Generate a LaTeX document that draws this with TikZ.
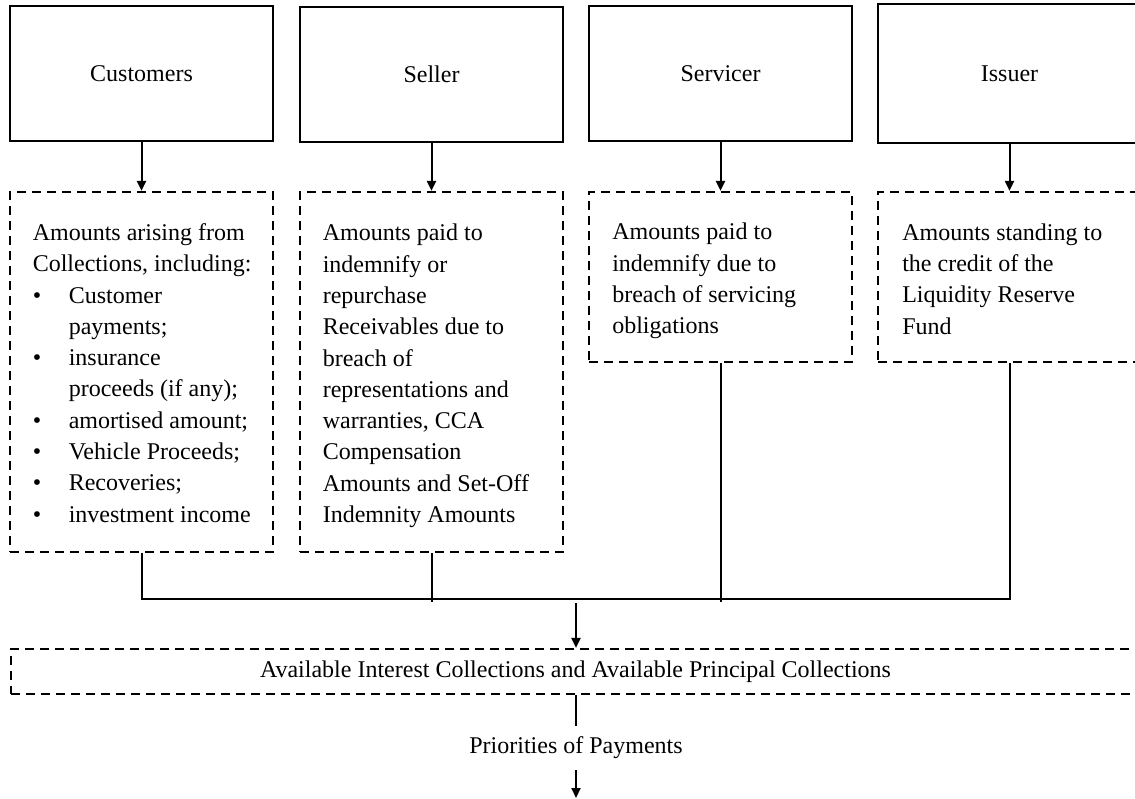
\documentclass[tikz,border=0pt]{standalone}
\usepackage{fontspec}
\setmainfont{Liberation Serif}
\usetikzlibrary{arrows.meta}
\begin{document}
\begin{tikzpicture}[x=0.5pt,y=-0.5pt,
  txt/.style={font=\fontsize{12pt}{15.65pt}\selectfont, inner sep=0pt},
  solidbox/.style={txt, draw, line width=1.2pt, minimum width=131.5pt},
  dashbox/.style={draw, line width=1.1pt, dash pattern=on 4.5pt off 3pt, minimum width=131.5pt, inner sep=0pt},
  boxtxt/.style={txt, align=left, anchor=west},
  conn/.style={line width=1pt},
  arr/.style={conn, -{Triangle[length=5pt,width=4.5pt]}}]
\useasboundingbox (0,0) rectangle (1135,798);

% top boxes
\node[solidbox, minimum height=67.5pt] (cust) at (141.5,73.5) {Customers};
\node[solidbox, minimum height=67.5pt] (seller) at (431.5,74.5) {Seller};
\node[solidbox, minimum height=67.5pt] (serv) at (720.5,73.5) {Servicer};
\node[solidbox, minimum height=69.5pt] (issuer) at (1009.5,73.5) {Issuer};

% dashed boxes
\node[dashbox, minimum height=180pt] (d1) at (141.5,372) {};
\node[dashbox, minimum height=180pt] (d2) at (431.5,372) {};
\node[dashbox, minimum height=85pt] (d3) at (720.5,277) {};
\node[dashbox, minimum height=85pt] (d4) at (1009.5,277) {};

\node[boxtxt] (t1) at ([xshift=11.75pt,yshift=-0.5pt]d1.west) {Amounts arising from\\
Collections, including:\\
\makebox[18pt][l]{\textbullet}Customer\\
\hspace*{18pt}payments;\\
\makebox[18pt][l]{\textbullet}insurance\\
\hspace*{18pt}proceeds (if any);\\
\makebox[18pt][l]{\textbullet}amortised amount;\\
\makebox[18pt][l]{\textbullet}Vehicle Proceeds;\\
\makebox[18pt][l]{\textbullet}Recoveries;\\
\makebox[18pt][l]{\textbullet}investment income};

\node[boxtxt] (t2) at ([xshift=11.75pt,yshift=-2pt]d2.west) {Amounts paid to\\
indemnify or\\
repurchase\\
Receivables due to\\
breach of\\
representations and\\
warranties, CCA\\
Compensation\\
Amounts and Set-Off\\
Indemnity Amounts};

\node[boxtxt] (t3) at ([xshift=12pt,yshift=-2pt]d3.west) {Amounts paid to\\
indemnify due to\\
breach of servicing\\
obligations};

\node[boxtxt] (t4) at ([xshift=12.5pt,yshift=-1pt]d4.west) {Amounts standing to\\
the credit of the\\
Liquidity Reserve\\
Fund};

% arrows top
\draw[arr] (cust.south) -- (d1.north);
\draw[arr] (seller.south) -- (d2.north);
\draw[arr] (serv.south) -- (d3.north);
\draw[arr] (issuer.south) -- (d4.north);

% merge
\coordinate (m) at (576,599);
\draw[conn] (d1.south) -- (d1.south |- m) -- (d4.south |- m) -- (d4.south);
\draw[conn] (d2.south) -- ([yshift=-1.5pt]d2.south |- m);
\draw[conn] (d3.south) -- ([yshift=-1.5pt]d3.south |- m);

% bottom box
\node[txt, draw, line width=1.1pt, dash pattern=on 4.5pt off 3pt, minimum width=564.5pt, minimum height=22.5pt] (bot) at (575.5,671.5) {Available Interest Collections and Available Principal Collections};
\draw[arr] ([yshift=-2pt]m) -- (m |- bot.north);

\node[txt, minimum height=22pt] (prio) at (576,748) {Priorities of Payments};
\draw[conn] (prio.north |- bot.south) -- (prio.north);
\coordinate (end) at (576,798);
\draw[arr] (prio.south) -- (end);
\end{tikzpicture}
\end{document}
